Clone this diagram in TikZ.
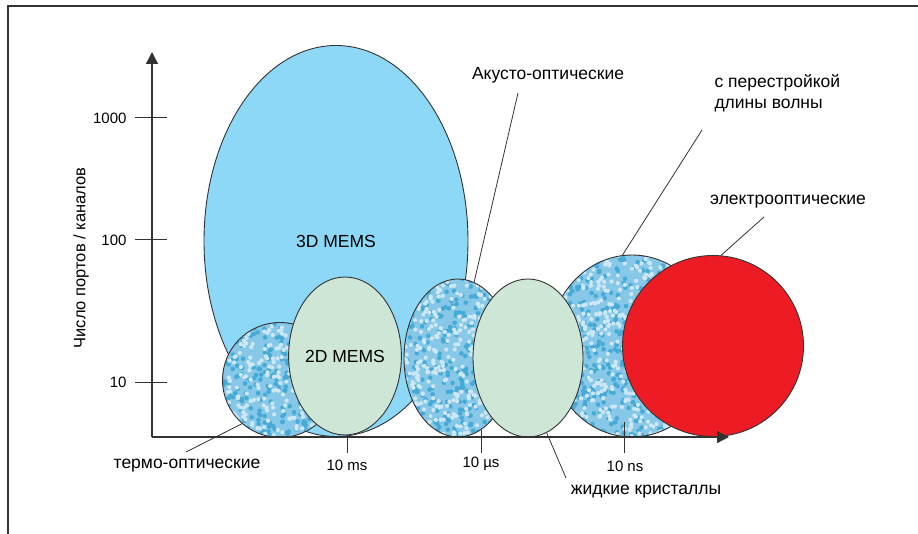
\documentclass[tikz,border=0pt]{standalone}
\usepackage{fontspec}
\setmainfont{Liberation Sans}
\usepackage{tikz}
\usetikzlibrary{
  shapes.geometric,
  arrows.meta,
  positioning
}
\definecolor{SkyBlue}{RGB}{141, 216, 246}
\definecolor{MintGreen}{RGB}{205, 230, 213}
\definecolor{SignalRed}{RGB}{237, 28, 36}
\definecolor{SpeckleBlue}{RGB}{135, 200, 232}
\definecolor{PaleBlue}{RGB}{205, 232, 244}
\definecolor{DeepBlue}{RGB}{70, 170, 215}
\definecolor{AxisGray}{RGB}{51, 51, 51}
\pgfmathsetseed{2024}
\tikzset{
    blob/.style={ellipse, draw=AxisGray, line width=0.9pt, inner sep=0pt},
    speckled/.style={blob, fill=SpeckleBlue, path picture={
        \foreach \k in {1,...,800}
            \fill[DeepBlue] (path picture bounding box.center) ++(rand*100, rand*100) circle (2.3pt);
        \foreach \k in {1,...,800}
            \fill[PaleBlue] (path picture bounding box.center) ++(rand*100, rand*100) circle (2.1pt);
    }},
    leader/.style={draw=AxisGray, line width=0.8pt},
    axisline/.style={draw=AxisGray, line width=1.3pt, -{Triangle[length=12pt, width=12pt]}},
    axistick/.style={draw=AxisGray, line width=1pt},
    caption/.style={font=\fontsize{17.5}{21}\selectfont}
}

\begin{document}
\begin{tikzpicture}[x=1pt, y=-1pt, font=\fontsize{15}{18}\selectfont]
    \useasboundingbox (0,0) rectangle (918,534);
    \draw[AxisGray, line width=1.5pt] (8,534) -- (8,6) -- (918,6);

    % bubbles, back to front
    \node[blob, caption, fill=SkyBlue, minimum width=264pt, minimum height=391pt] (mems3d) at (336,241) {3D MEMS};
    \node[speckled, minimum width=115pt, minimum height=115pt] (thermo) at (280,380) {};
    \node[blob, caption, fill=MintGreen, minimum width=111pt, minimum height=158pt] (mems2d) at (345,356) {2D MEMS};
    \node[speckled, minimum width=166pt, minimum height=182pt] (tunable) at (632,346) {};
    \node[speckled, minimum width=108pt, minimum height=158pt] (acousto) at (458,358) {};
    \node[blob, fill=MintGreen, minimum width=110pt, minimum height=158pt] (liquid) at (528,358) {};
    \node[blob, fill=SignalRed, minimum width=181pt, minimum height=181pt] (electro) at (713,346) {};

    % axes
    \coordinate (origin) at (152,437);
    \draw[axisline] (origin) -- (152,52);
    \draw[axisline] (origin) -- (729,437);
    \foreach \yy/\lab in {118/1000, 240/100, 382/10} {
        \draw[axistick] (135,\yy) -- (167,\yy);
        \node[anchor=east] (y\lab) at (130,\yy) {\lab};
    }
    \foreach \xx/\top in {347/437, 481/430, 624/422}
        \draw[axistick] (\xx,\top) -- (\xx,453);
    \node (tms) at (347,465) {10 ms};
    \node (tus) at (481,464) {10 µs};
    \node (tns) at (625,466) {10 ns};
    \node[rotate=90, font=\fontsize{16.5}{20}\selectfont] (ylabel) at (81,258) {Число портов / каналов};

    % labels
    \node[caption] (aolabel) at (548,75) {Акусто-оптические};
    \node[caption, anchor=north west, align=left] (twlabel) at (711,71) {с перестройкой\\длины волны};
    \node[caption] (eolabel) at (788,202) {электрооптические};
    \node[caption] (tolabel) at (187,466) {термо-оптические};
    \node[caption] (lclabel) at (646,492) {жидкие кристаллы};

    \coordinate (aotip) at (518,93);
    \coordinate (twtip) at (702,130);
    \coordinate (eotip) at (764,217);
    \coordinate (totip) at (186,452);
    \coordinate (lctip) at (566,478);
    \draw[leader] (aotip) -- (acousto.78);
    \draw[leader] (twtip) -- (tunable.96);
    \draw[leader] (eotip) -- (electro.85);
    \draw[leader] (totip) -- (thermo.229);
    \draw[leader] (lctip) -- (liquid.284);
\end{tikzpicture}
\end{document}
